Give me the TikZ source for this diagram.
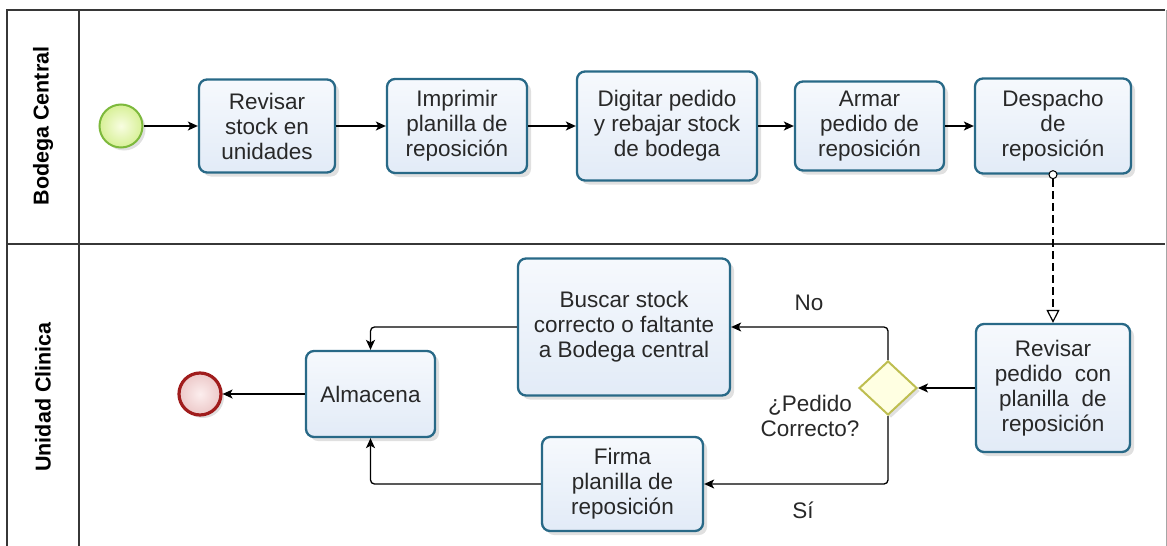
\documentclass[tikz,border=0pt]{standalone}
\usepackage{fontspec}
\setmainfont{Liberation Sans}
\usetikzlibrary{arrows.meta,shapes.geometric,shadows}
\definecolor{taskline}{RGB}{40,105,135}
\definecolor{tasktop}{RGB}{246,249,253}
\definecolor{taskbot}{RGB}{226,235,247}
\definecolor{txt}{RGB}{40,40,40}
\definecolor{lanegray}{RGB}{55,55,55}
\definecolor{startline}{RGB}{125,185,60}
\definecolor{startin}{RGB}{248,253,225}
\definecolor{startout}{RGB}{215,240,150}
\definecolor{endline}{RGB}{160,28,28}
\definecolor{endin}{RGB}{252,238,238}
\definecolor{endout}{RGB}{236,200,200}
\definecolor{gwline}{RGB}{190,190,80}
\definecolor{gwfill}{RGB}{255,255,226}
\tikzset{
  lbl/.style={font=\fontsize{22.5}{25}\selectfont, text=txt, align=center, inner sep=0pt},
  task/.style={lbl, draw=taskline, line width=2.3pt, rounded corners=8pt,
    top color=tasktop, bottom color=taskbot,
    drop shadow={shadow xshift=4pt, shadow yshift=-4pt, opacity=0.12, fill=black}},
  startev/.style={circle, draw=startline, line width=2pt, minimum size=43pt, inner sep=0pt,
    inner color=startin, outer color=startout,
    drop shadow={shadow xshift=3pt, shadow yshift=-3pt, opacity=0.12, fill=black}},
  endev/.style={circle, draw=endline, line width=3.2pt, minimum size=42pt, inner sep=0pt,
    inner color=endin, outer color=endout,
    drop shadow={shadow xshift=3pt, shadow yshift=-3pt, opacity=0.12, fill=black}},
  gateway/.style={diamond, draw=gwline, line width=2pt, fill=gwfill, minimum width=58pt,
    minimum height=54pt, inner sep=0pt,
    drop shadow={shadow xshift=3pt, shadow yshift=-3pt, opacity=0.12, fill=black}},
  flow/.style={draw=black, line width=1.3pt, -{Stealth[length=10pt,width=9pt,inset=2.5pt]}},
  msgflow/.style={draw=black, line width=1.2pt, dash pattern=on 8pt off 4pt,
    -{Triangle[open,length=13pt,width=13pt]}},
  lane/.style={draw=lanegray, line width=1.3pt},
  lanehead/.style={font=\fontsize{21.5}{24}\bfseries, text=black, rotate=90, inner sep=0pt}
}
\begin{document}
\begin{tikzpicture}[x=1pt,y=-1pt]
\useasboundingbox (0,0) rectangle (1167,546);
% pool / lanes
\draw[lane] (7,546) -- (7,10) -- (1165,10);
\draw[lane] (79,10) -- (79,546);
\draw[lane] (7,244) -- (1165,244);
\draw[draw=black!35, line width=1pt] (1166,10) -- (1166,546);
\node[lanehead] (lbc) at (43,126) {Bodega Central};
\node[lanehead] (luc) at (43,397) {Unidad Clinica};
% lane 1
\node[startev] (start) at (121,126) {};
\node[task, minimum width=136pt, minimum height=93pt] (t1) at (267,126) {Revisar\\stock en\\unidades};
\node[task, minimum width=140pt, minimum height=94pt] (t2) at (457,126) {Imprimir\\planilla de\\reposición};
\node[task, minimum width=180pt, minimum height=109pt] (t3) at (667,126) {Digitar pedido\\y rebajar stock\\de bodega};
\node[task, minimum width=149pt, minimum height=89pt] (t4) at (869.5,126) {Armar\\pedido de\\reposición};
\node[task, minimum width=156pt, minimum height=95pt] (t5) at (1053,126) {Despacho\\de\\reposición};
% lane 2
\node[task, minimum width=154pt, minimum height=128pt] (t6) at (1053,388) {Revisar\\pedido~ con\\planilla~ de\\reposición};
\node[gateway] (dec) at (888,388) {};
\node[task, minimum width=212pt, minimum height=137pt] (t7) at (624,327) {Buscar stock\\correcto o faltante\\a Bodega central};
\node[task, minimum width=161pt, minimum height=94pt] (t8) at (622.5,484) {Firma\\planilla de\\reposición};
\node[task, minimum width=129pt, minimum height=86pt] (t9) at (370.5,394) {Almacena};
\node[endev] (end) at (200,394) {};
% labels
\node[lbl] (lno) at (809,303) {No};
\node[lbl] (lsi) at (803,510) {Sí};
\node[lbl] (lq) at (810,416) {¿Pedido\\Correcto?};
% message flow
\node[circle, draw=black, line width=1pt, fill=white, minimum size=8pt, inner sep=0pt] (ms) at (t5.south) {};
\draw[msgflow] (ms.south) -- (t6.north);
% sequence flows
\draw[flow] (start) -- (t1);
\draw[flow] (t1) -- (t2);
\draw[flow] (t2) -- (t3);
\draw[flow] (t3) -- (t4);
\draw[flow] (t4) -- (t5);
\draw[flow] (t6) -- (dec);
\draw[flow, rounded corners=4pt] (dec.north) |- (t7.east);
\draw[flow, rounded corners=4pt] (dec.south) |- (t8.east);
\draw[flow, rounded corners=4pt] (t7.west) -| (t9.north);
\draw[flow, rounded corners=4pt] (t8.west) -| (t9.south);
\draw[flow] (t9) -- (end);
\end{tikzpicture}
\end{document}
